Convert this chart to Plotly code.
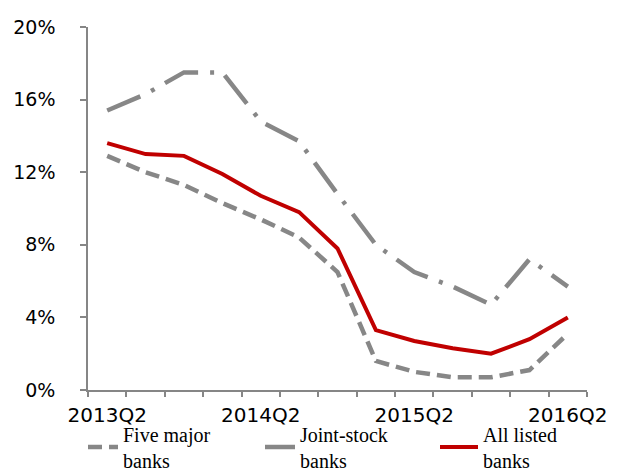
import plotly.graph_objects as go

quarters = ["2013Q2", "2013Q3", "2013Q4", "2014Q1", "2014Q2", "2014Q3", "2014Q4",
            "2015Q1", "2015Q2", "2015Q3", "2015Q4", "2016Q1", "2016Q2"]
five_major = [12.9, 12.0, 11.3, 10.3, 9.4, 8.4, 6.5, 1.6, 1.0, 0.7, 0.7, 1.1, 3.1]
joint_stock = [15.4, 16.3, 17.5, 17.5, 14.8, 13.7, 10.8, 8.0, 6.5, 5.7, 4.7, 7.2, 5.7]
all_listed = [13.6, 13.0, 12.9, 11.9, 10.7, 9.8, 7.8, 3.3, 2.7, 2.3, 2.0, 2.8, 4.0]
series_names = ["Five major<br>banks", "Joint-stock<br>banks", "All listed<br>banks"]
label_quarters = ["2013Q2", "2014Q2", "2015Q2", "2016Q2"]
y_ticks = [0, 4, 8, 12, 16, 20]
y_tick_text = [f"{v}%" for v in y_ticks]

x_idx = list(range(len(quarters)))
label_idx = [quarters.index(q) for q in label_quarters]

GREY = "#878787"
RED = "#C00000"

fig = go.Figure()
fig.add_trace(go.Scatter(x=x_idx, y=five_major, mode="lines", name=series_names[0],
                         legend="legend",
                         line=dict(color=GREY, width=4.5, dash="14px,7px")))
fig.add_trace(go.Scatter(x=x_idx, y=joint_stock, mode="lines", name=series_names[1],
                         legend="legend2",
                         line=dict(color=GREY, width=4.5, dash="36px,12px,4px,12px")))
fig.add_trace(go.Scatter(x=x_idx, y=all_listed, mode="lines", name=series_names[2],
                         legend="legend3",
                         line=dict(color=RED, width=4)))

x_font = dict(family="DejaVu Sans", size=20, color="#000000")
y_font = dict(family="DejaVu Sans", size=19, color="#000000")
leg_font = dict(family="Liberation Serif", size=20, color="#000000")
leg_y = (471 - 439) / 471


def leg(xpx, itemwidth=30):
    return dict(orientation="v", xref="container", x=xpx / 617, xanchor="left",
                yref="container", y=leg_y, yanchor="middle", font=leg_font,
                itemwidth=itemwidth, bgcolor="rgba(0,0,0,0)")


fig.update_layout(
    width=617, height=471,
    margin=dict(l=80, r=38, t=19, b=89, autoexpand=False),
    paper_bgcolor="white", plot_bgcolor="white",
    showlegend=True,
    legend=leg(75),
    legend2=leg(252),
    legend3=leg(427, 38),
    xaxis=dict(range=[-0.5, len(quarters) - 0.5], showgrid=False, zeroline=False,
               showline=True, linecolor="#868686", linewidth=1.5,
               tickmode="array", tickvals=label_idx, ticktext=label_quarters,
               ticks="", tickfont=x_font, ticklabelstandoff=6,
               minor=dict(ticks="outside", tick0=-0.5, dtick=1, ticklen=5,
                          tickcolor="#868686", tickwidth=1.5, showgrid=False)),
    yaxis=dict(range=[0, 20], showgrid=False, zeroline=False,
               showline=True, linecolor="#868686", linewidth=1.5,
               tickmode="array", tickvals=y_ticks, ticktext=y_tick_text,
               ticks="outside", ticklen=6, tickcolor="#868686", tickwidth=1.5,
               tickfont=y_font, ticklabelstandoff=21),
)

fig.write_html("out.html")
